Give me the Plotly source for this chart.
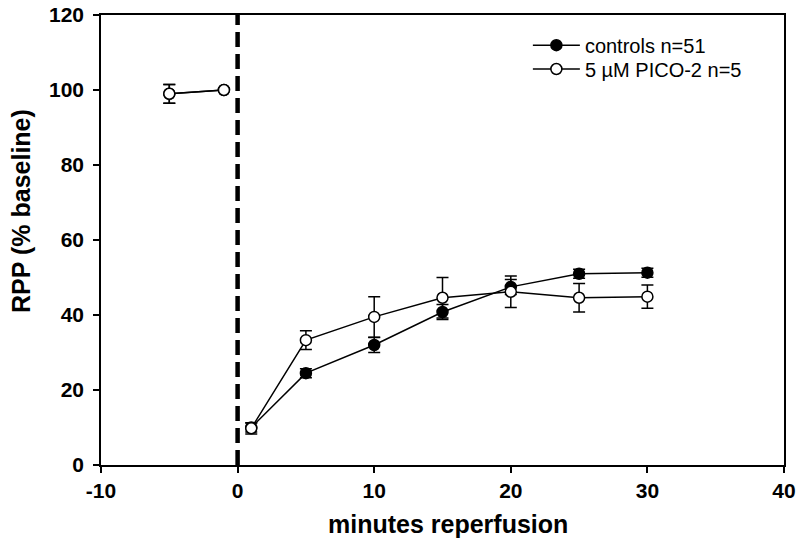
import plotly.graph_objects as go

# Data
pre_minutes = [-5, -1]
post_minutes = [1, 5, 10, 15, 20, 25, 30]

controls_pre = [99.0, 100.0]
controls_pre_err = [2.5, 0.0]
controls_post = [10.0, 24.5, 32.0, 40.8, 47.5, 51.0, 51.3]
controls_post_err = [1.2, 1.2, 2.0, 2.0, 2.0, 1.2, 1.2]

pico_pre = [99.0, 100.0]
pico_pre_err = [2.5, 0.0]
pico_post = [9.8, 33.3, 39.5, 44.6, 46.2, 44.6, 44.9]
pico_post_err = [1.5, 2.5, 5.4, 5.4, 4.2, 3.8, 3.1]

x_ticks = [-10, 0, 10, 20, 30, 40]
x_tick_labels = ["-10", "0", "10", "20", "30", "40"]
y_ticks = [0, 20, 40, 60, 80, 100, 120]

fig = go.Figure()

def add_series(name, legend_id, pre_y, pre_err, post_y, post_err, fill):
    common = dict(
        mode="lines+markers", legendgroup=name, legend=legend_id,
        line=dict(color="black", width=1.5),
        marker=dict(symbol="circle", size=11, color=fill, line=dict(color="black", width=1.5)),
    )
    fig.add_trace(go.Scatter(
        x=post_minutes, y=post_y, name=name, showlegend=True,
        error_y=dict(type="data", array=post_err, visible=True, color="black", thickness=1.5, width=6),
        **common))
    fig.add_trace(go.Scatter(
        x=pre_minutes, y=pre_y, name=name, showlegend=False,
        error_y=dict(type="data", array=pre_err, visible=True, color="black", thickness=1.5, width=6),
        **common))

add_series("controls n=51", "legend", controls_pre, controls_pre_err, controls_post, controls_post_err, "black")
add_series("5 µM PICO-2 n=5", "legend2", pico_pre, pico_pre_err, pico_post, pico_post_err, "white")

fig.add_shape(type="line", xref="x", yref="y", x0=0, x1=0, y0=0, y1=120,
              line=dict(color="black", width=4.5, dash="15px,7px"), layer="below")

legend_style = dict(xanchor="left", yanchor="middle", font=dict(size=20),
                    bgcolor="rgba(0,0,0,0)", itemwidth=47)

fig.update_layout(
    width=800, height=548,
    margin=dict(l=101, r=16, t=15, b=83),
    paper_bgcolor="white", plot_bgcolor="white",
    font=dict(family="Liberation Sans, Arial, sans-serif", color="black"),
    showlegend=True,
    legend=dict(x=0.625, y=0.933, **legend_style),
    legend2=dict(x=0.625, y=0.880, **legend_style),
    xaxis=dict(range=[-10, 40], tickvals=x_ticks, ticktext=x_tick_labels,
               ticks="outside", ticklen=6, tickwidth=1.5,
               tickcolor="black", showline=True, linecolor="black", linewidth=1.5, mirror=True,
               showgrid=False, zeroline=False, automargin=False, ticklabeloverflow="allow",
               tickfont=dict(size=21, weight="bold")),
    yaxis=dict(range=[0, 120], tickvals=y_ticks, ticks="outside", ticklen=6, tickwidth=1.5,
               tickcolor="black", showline=True, linecolor="black", linewidth=1.5, mirror=True,
               showgrid=False, zeroline=False, automargin=False, ticklabelstandoff=5,
               ticklabeloverflow="allow",
               tickfont=dict(size=21, weight="bold")),
    annotations=[
        dict(text="<b>minutes reperfusion</b>", xref="paper", yref="paper",
             x=0.508, y=-0.131, xanchor="center", yanchor="middle", showarrow=False,
             font=dict(size=25)),
        dict(text="<b>RPP (% baseline)</b>", xref="paper", yref="paper",
             x=-0.1175, y=0.564, xanchor="center", yanchor="middle", showarrow=False,
             textangle=-90, font=dict(size=25)),
    ],
)

fig.write_html("out.html",
               config={"displayModeBar": False},
               post_script="document.body.style.margin='0';document.body.style.overflow='hidden';")
